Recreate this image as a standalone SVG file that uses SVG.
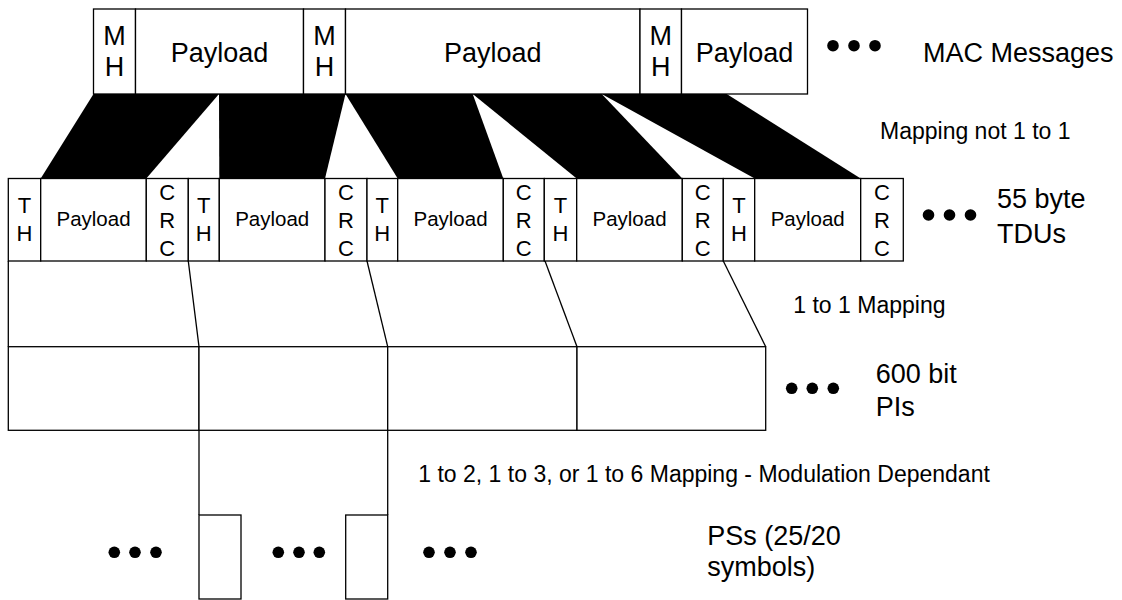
<svg xmlns="http://www.w3.org/2000/svg" width="1122" height="600" viewBox="0 0 1122 600">
  <style>
    .cell { fill: #fff; stroke: #000; stroke-width: 1.3; }
    .ln { fill: none; stroke: #000; stroke-width: 1.3; }
    .band { fill: #000; stroke: none; }
    .dot { fill: #000; }
    text { font-family: "Liberation Sans", Arial, sans-serif; fill: #000; }
    .big { font-size: 27px; }
    .mid { font-size: 22px; }
    .pl { font-size: 20.5px; }
    .lbl { font-size: 23px; }
    .c { text-anchor: middle; }
  </style>
  <rect width="1122" height="600" fill="#fff"/>

  <!-- mapping from MAC messages to TDUs, and TDUs to PIs to PSs -->
  <g id="connectors">
    <polygon class="band" points="93.5,94 219,94 146.3,178.5 40.7,178.5"/>
    <polygon class="band" points="219,94 345.5,94 325,178.5 219.3,178.5"/>
    <polygon class="band" points="345.5,94 472.7,94 503.3,178.5 397.7,178.5"/>
    <polygon class="band" points="472.7,94 601.7,94 682.3,178.5 576.7,178.5"/>
    <polygon class="band" points="601.7,94 726.7,94 860.7,178.5 754.7,178.5"/>
    <path class="ln" d="M8.3,261 V346.7"/>
    <path class="ln" d="M188.3,261 L199,346.7"/>
    <path class="ln" d="M367,261 L387.7,346.7"/>
    <path class="ln" d="M545,261 L577,346.7"/>
    <path class="ln" d="M723.3,261 L765.7,346.7"/>
    <path class="ln" d="M199,430.3 V515"/>
    <path class="ln" d="M387.7,430.3 V515"/>
  </g>

  <g id="mac-messages">
    <rect class="cell" x="93.5" y="9" width="42" height="85"/>
    <rect class="cell" x="135.5" y="9" width="168" height="85"/>
    <rect class="cell" x="303.5" y="9" width="42" height="85"/>
    <rect class="cell" x="345.5" y="9" width="294.5" height="85"/>
    <rect class="cell" x="640" y="9" width="41.5" height="85"/>
    <rect class="cell" x="681.5" y="9" width="126" height="85"/>
    <text class="big c" x="114.5" y="45">M</text>
    <text class="big c" x="114.5" y="76">H</text>
    <text class="big c" x="219.5" y="61.5">Payload</text>
    <text class="big c" x="324.5" y="45">M</text>
    <text class="big c" x="324.5" y="76">H</text>
    <text class="big c" x="492.8" y="61.5">Payload</text>
    <text class="big c" x="660.8" y="45">M</text>
    <text class="big c" x="660.8" y="76">H</text>
    <text class="big c" x="744.5" y="61.5">Payload</text>
  </g>

  <g id="tdus">
    <rect class="cell" x="8.3" y="178.5" width="32.4" height="82.5"/>
    <rect class="cell" x="40.7" y="178.5" width="105.6" height="82.5"/>
    <rect class="cell" x="146.3" y="178.5" width="42" height="82.5"/>
    <rect class="cell" x="188.3" y="178.5" width="31" height="82.5"/>
    <rect class="cell" x="219.3" y="178.5" width="105.7" height="82.5"/>
    <rect class="cell" x="325" y="178.5" width="42" height="82.5"/>
    <rect class="cell" x="367" y="178.5" width="30.7" height="82.5"/>
    <rect class="cell" x="397.7" y="178.5" width="105.6" height="82.5"/>
    <rect class="cell" x="503.3" y="178.5" width="41" height="82.5"/>
    <rect class="cell" x="544.3" y="178.5" width="32.4" height="82.5"/>
    <rect class="cell" x="576.7" y="178.5" width="105.6" height="82.5"/>
    <rect class="cell" x="682.3" y="178.5" width="41" height="82.5"/>
    <rect class="cell" x="723.3" y="178.5" width="31.4" height="82.5"/>
    <rect class="cell" x="754.7" y="178.5" width="106" height="82.5"/>
    <rect class="cell" x="860.7" y="178.5" width="42.6" height="82.5"/>
    <g class="mid c">
      <text x="24.5" y="213">T</text><text x="24.5" y="241">H</text>
      <text x="203.8" y="213">T</text><text x="203.8" y="241">H</text>
      <text x="382.3" y="213">T</text><text x="382.3" y="241">H</text>
      <text x="560.5" y="213">T</text><text x="560.5" y="241">H</text>
      <text x="739" y="213">T</text><text x="739" y="241">H</text>
      <text x="167.3" y="200">C</text><text x="167.3" y="228">R</text><text x="167.3" y="256">C</text>
      <text x="346" y="200">C</text><text x="346" y="228">R</text><text x="346" y="256">C</text>
      <text x="523.8" y="200">C</text><text x="523.8" y="228">R</text><text x="523.8" y="256">C</text>
      <text x="702.8" y="200">C</text><text x="702.8" y="228">R</text><text x="702.8" y="256">C</text>
      <text x="882" y="200">C</text><text x="882" y="228">R</text><text x="882" y="256">C</text>
    </g>
    <g class="pl c">
      <text x="93.5" y="226">Payload</text>
      <text x="272.2" y="226">Payload</text>
      <text x="450.5" y="226">Payload</text>
      <text x="629.5" y="226">Payload</text>
      <text x="807.7" y="226">Payload</text>
    </g>
  </g>

  <g id="pis">
    <rect class="cell" x="8.3" y="346.7" width="190.7" height="83.6"/>
    <rect class="cell" x="199" y="346.7" width="188.7" height="83.6"/>
    <rect class="cell" x="387.7" y="346.7" width="189.3" height="83.6"/>
    <rect class="cell" x="577" y="346.7" width="188.7" height="83.6"/>
  </g>

  <g id="ps-1">
    <rect class="cell" x="199" y="515" width="42" height="84"/>
  </g>
  <g id="ps-2">
    <rect class="cell" x="345.7" y="515" width="42" height="84"/>
  </g>

  <g id="ellipses">
    <circle class="dot" cx="833" cy="45.7" r="5.8"/>
    <circle class="dot" cx="854" cy="45.7" r="5.8"/>
    <circle class="dot" cx="875" cy="45.7" r="5.8"/>
    <circle class="dot" cx="928.5" cy="215" r="5.8"/>
    <circle class="dot" cx="949.5" cy="215" r="5.8"/>
    <circle class="dot" cx="970.5" cy="215" r="5.8"/>
    <circle class="dot" cx="791.7" cy="388.3" r="5.8"/>
    <circle class="dot" cx="812.3" cy="388.3" r="5.8"/>
    <circle class="dot" cx="833.3" cy="388.3" r="5.8"/>
    <circle class="dot" cx="114.3" cy="552.3" r="5.8"/>
    <circle class="dot" cx="135" cy="552.3" r="5.8"/>
    <circle class="dot" cx="156" cy="552.3" r="5.8"/>
    <circle class="dot" cx="278.3" cy="552.3" r="5.8"/>
    <circle class="dot" cx="299" cy="552.3" r="5.8"/>
    <circle class="dot" cx="319.3" cy="552.3" r="5.8"/>
    <circle class="dot" cx="429" cy="552.3" r="5.8"/>
    <circle class="dot" cx="450" cy="552.3" r="5.8"/>
    <circle class="dot" cx="471" cy="552.3" r="5.8"/>
  </g>

  <g id="labels">
    <text class="big" x="923" y="61.5">MAC Messages</text>
    <text class="lbl" x="880" y="139">Mapping not 1 to 1</text>
    <text class="big" x="997" y="208">55 byte</text>
    <text class="big" x="997" y="243">TDUs</text>
    <text class="lbl" x="793.3" y="313">1 to 1 Mapping</text>
    <text class="big" x="875.7" y="383.3">600 bit</text>
    <text class="big" x="875.7" y="415.7">PIs</text>
    <text class="lbl" x="418.3" y="481.7">1 to 2, 1 to 3, or 1 to 6 Mapping - Modulation Dependant</text>
    <text class="big" x="707.3" y="545">PSs (25/20</text>
    <text class="big" x="707.3" y="576">symbols)</text>
  </g>
</svg>
